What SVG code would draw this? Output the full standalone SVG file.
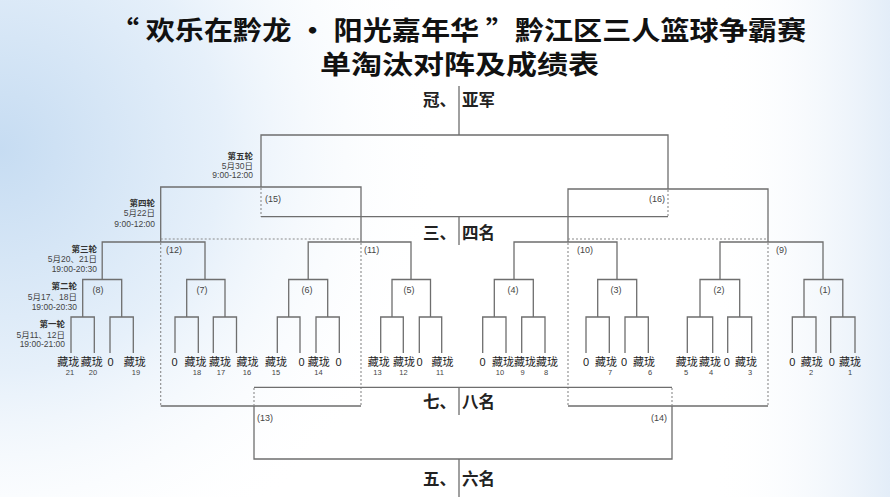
<svg xmlns="http://www.w3.org/2000/svg" width="890" height="497" viewBox="0 0 890 497">
<defs>
<radialGradient id="bgl" cx="0" cy="0.3" r="0.5" gradientUnits="objectBoundingBox" gradientTransform="translate(0,0.3) scale(1,1.8) translate(0,-0.3)">
<stop offset="0" stop-color="#c6dcf2"/>
<stop offset="0.5" stop-color="#e6f0fa"/>
<stop offset="1" stop-color="#ffffff" stop-opacity="0"/>
</radialGradient>
<linearGradient id="bgr" x1="0" y1="0" x2="1" y2="0">
<stop offset="0.8" stop-color="#ffffff" stop-opacity="0"/>
<stop offset="1" stop-color="#e3edf8"/>
</linearGradient>
<style>
.ln{fill:none;stroke:#6e6e6e;stroke-width:1.3}
.dl{fill:none;stroke:#8a8a8a;stroke-width:1.1;stroke-dasharray:2 2}
.title{font-family:"Noto Sans CJK SC","Noto Sans CJK TC",sans-serif;font-weight:700;font-size:26px;fill:#111}
.place{font-family:"Noto Sans CJK SC",sans-serif;font-weight:700;font-size:16.5px;fill:#222}
.rd{font-family:"Noto Sans CJK SC",sans-serif;font-weight:700;font-size:8.5px;fill:#333;text-anchor:end}
.rdt{font-family:"Liberation Sans","Noto Sans CJK SC",sans-serif;font-size:8.5px;fill:#444;text-anchor:end}
.mn{font-family:"Liberation Sans","Noto Sans CJK SC",sans-serif;font-size:9px;fill:#444}
.tm{font-family:"Noto Sans CJK SC",sans-serif;font-size:11px;fill:#222;text-anchor:middle}
.z{font-family:"Liberation Sans",sans-serif;font-size:11px;fill:#222;text-anchor:middle}
.num{font-family:"Liberation Sans",sans-serif;font-size:7.5px;fill:#444;text-anchor:middle}
</style>
</defs>
<rect width="890" height="497" fill="#ffffff"/>
<rect width="890" height="497" fill="url(#bgl)"/>
<rect width="890" height="497" fill="url(#bgr)"/>

<g id="title">
<text class="title" x="110" y="40" textLength="696" lengthAdjust="spacingAndGlyphs">“ 欢乐在黔龙 · 阳光嘉年华 ”黔江区三人篮球争霸赛</text>
<text class="title" x="320" y="74" textLength="279" lengthAdjust="spacingAndGlyphs">单淘汰对阵及成绩表</text>
</g>

<g id="connectors">
<!-- round 1 pairs -->
<path class="ln" d="M71 353V317H94.3V353M110 353V317H133.3V353M175 353V317H198.3V353M213.3 353V317H236.5V353M277.3 353V317H300V353M316 353V317H339.3V353M380.7 353V317H403.3V353M419.3 353V317H441.7V353M482.7 353V317H506V353M521.7 353V317H545V353M586 353V317H609.3V353M625 353V317H648.3V353M687.3 353V317H712.7V353M727.7 353V317H751.7V353M792.3 353V317H816V353M830.7 353V317H855V353"/>
<!-- round 2 -->
<path class="ln" d="M82.7 317V279.5H121.7V317M186.7 317V279.5H225V317M288.7 317V279.5H327.7V317M392 317V279.5H430.5V317M494.3 317V279.5H533.3V317M597.7 317V279.5H636.7V317M700 317V279.5H739.7V317M804 317V279.5H842.8V317"/>
<!-- round 3 -->
<path class="ln" d="M102.2 279.5V242H205V279.5M308.2 279.5V242H411V279.5M514 279.5V242H617V279.5M720 279.5V242H823V279.5"/>
<!-- round 4 -->
<path class="ln" d="M160.7 242V187H361V242M568 242V189H768V242"/>
<!-- final -->
<path class="ln" d="M261 187V135H668V189M459 135V86"/>
<!-- 3rd/4th -->
<path class="dl" d="M261 188V216.7M668 190V216.7"/>
<path class="ln" d="M261 216.7H668M459 216.7V245"/>
<!-- loser boxes -->
<path class="dl" d="M160.7 239H361M160.7 243V406M361 243V406M568 239H768M568 243V406M768 243V406"/>
<path class="ln" d="M160.7 406H361M568 406H768"/>
<!-- 5th-8th -->
<path class="dl" d="M254 388V406M672 388V406"/>
<path class="ln" d="M254 387.3H672M459 387.3V415M254 406V459H672V406M459 459V497"/>
</g>

<g id="placings">
<g id="p12"><text class="place" x="456" y="106" text-anchor="end">冠、</text><text class="place" x="462" y="106">亚军</text></g>
<g id="p34"><text class="place" x="456" y="239" text-anchor="end">三、</text><text class="place" x="462" y="239">四名</text></g>
<g id="p78"><text class="place" x="456" y="408" text-anchor="end">七、</text><text class="place" x="462" y="408">八名</text></g>
<g id="p56"><text class="place" x="456" y="485" text-anchor="end">五、</text><text class="place" x="462" y="485">六名</text></g>
</g>

<g id="rounds">
<g id="r5"><text class="rd" x="253" y="159">第五轮</text><text class="rdt" x="253" y="169">5月30日</text><text class="rdt" x="253" y="178">9:00-12:00</text></g>
<g id="r4"><text class="rd" x="155" y="206">第四轮</text><text class="rdt" x="155" y="216">5月22日</text><text class="rdt" x="155" y="227">9:00-12:00</text></g>
<g id="r3"><text class="rd" x="97" y="252">第三轮</text><text class="rdt" x="97" y="262">5月20、21日</text><text class="rdt" x="97" y="272">19:00-20:30</text></g>
<g id="r2"><text class="rd" x="77" y="289">第二轮</text><text class="rdt" x="77" y="300">5月17、18日</text><text class="rdt" x="77" y="310">19:00-20:30</text></g>
<g id="r1"><text class="rd" x="65" y="327">第一轮</text><text class="rdt" x="65" y="338">5月11、12日</text><text class="rdt" x="65" y="347">19:00-21:00</text></g>
</g>

<g id="matches">
<g id="m1"><text class="mn" x="825" y="293" text-anchor="middle">(1)</text></g>
<g id="m2"><text class="mn" x="719" y="293" text-anchor="middle">(2)</text></g>
<g id="m3"><text class="mn" x="616" y="293" text-anchor="middle">(3)</text></g>
<g id="m4"><text class="mn" x="513" y="293" text-anchor="middle">(4)</text></g>
<g id="m5"><text class="mn" x="409" y="293" text-anchor="middle">(5)</text></g>
<g id="m6"><text class="mn" x="307" y="293" text-anchor="middle">(6)</text></g>
<g id="m7"><text class="mn" x="202" y="293" text-anchor="middle">(7)</text></g>
<g id="m8"><text class="mn" x="98" y="293" text-anchor="middle">(8)</text></g>
<g id="m9"><text class="mn" x="776" y="253">(9)</text></g>
<g id="m10"><text class="mn" x="577" y="253">(10)</text></g>
<g id="m11"><text class="mn" x="364" y="253">(11)</text></g>
<g id="m12"><text class="mn" x="166" y="253">(12)</text></g>
<g id="m13"><text class="mn" x="257" y="421">(13)</text></g>
<g id="m14"><text class="mn" x="667" y="421" text-anchor="end">(14)</text></g>
<g id="m15"><text class="mn" x="265" y="202">(15)</text></g>
<g id="m16"><text class="mn" x="665" y="202" text-anchor="end">(16)</text></g>
</g>

<g id="teams">
<g id="t21"><text class="tm" x="68.3" y="366">藏珑</text><text class="num" x="70" y="375">21</text></g>
<g id="t20"><text class="tm" x="91.7" y="366">藏珑</text><text class="num" x="93" y="375">20</text></g>
<g id="b1"><text class="z" x="110.5" y="366">0</text></g>
<g id="t19"><text class="tm" x="134.7" y="366">藏珑</text><text class="num" x="136" y="375">19</text></g>
<g id="b2"><text class="z" x="174.5" y="366">0</text></g>
<g id="t18"><text class="tm" x="195.5" y="366">藏珑</text><text class="num" x="197" y="375">18</text></g>
<g id="t17"><text class="tm" x="220" y="366">藏珑</text><text class="num" x="221" y="375">17</text></g>
<g id="t16"><text class="tm" x="247.5" y="366">藏珑</text><text class="num" x="247" y="375">16</text></g>
<g id="t15"><text class="tm" x="276" y="366">藏珑</text><text class="num" x="276" y="375">15</text></g>
<g id="b3"><text class="z" x="301.5" y="366">0</text></g>
<g id="t14"><text class="tm" x="318.7" y="366">藏珑</text><text class="num" x="318.5" y="375">14</text></g>
<g id="b4"><text class="z" x="338.5" y="366">0</text></g>
<g id="t13"><text class="tm" x="378.8" y="366">藏珑</text><text class="num" x="377.5" y="375">13</text></g>
<g id="t12"><text class="tm" x="404" y="366">藏珑</text><text class="num" x="403.5" y="375">12</text></g>
<g id="b5"><text class="z" x="419.5" y="366">0</text></g>
<g id="t11"><text class="tm" x="442.5" y="366">藏珑</text><text class="num" x="440" y="375">11</text></g>
<g id="b6"><text class="z" x="482.5" y="366">0</text></g>
<g id="t10"><text class="tm" x="503" y="366">藏珑</text><text class="num" x="500" y="375">10</text></g>
<g id="t9"><text class="tm" x="525" y="366">藏珑</text><text class="num" x="522.5" y="375">9</text></g>
<g id="t8"><text class="tm" x="547" y="366">藏珑</text><text class="num" x="546" y="375">8</text></g>
<g id="b7"><text class="z" x="586" y="366">0</text></g>
<g id="t7"><text class="tm" x="606" y="366">藏珑</text><text class="num" x="610" y="375">7</text></g>
<g id="b8"><text class="z" x="624" y="366">0</text></g>
<g id="t6"><text class="tm" x="644" y="366">藏珑</text><text class="num" x="650" y="375">6</text></g>
<g id="t5"><text class="tm" x="686.7" y="366">藏珑</text><text class="num" x="686" y="375">5</text></g>
<g id="t4"><text class="tm" x="710" y="366">藏珑</text><text class="num" x="711" y="375">4</text></g>
<g id="b9"><text class="z" x="726.7" y="366">0</text></g>
<g id="t3"><text class="tm" x="746" y="366">藏珑</text><text class="num" x="750" y="375">3</text></g>
<g id="b10"><text class="z" x="792.3" y="366">0</text></g>
<g id="t2"><text class="tm" x="811.7" y="366">藏珑</text><text class="num" x="811" y="375">2</text></g>
<g id="b11"><text class="z" x="831.7" y="366">0</text></g>
<g id="t1"><text class="tm" x="850" y="366">藏珑</text><text class="num" x="850" y="375">1</text></g>
</g>
</svg>
